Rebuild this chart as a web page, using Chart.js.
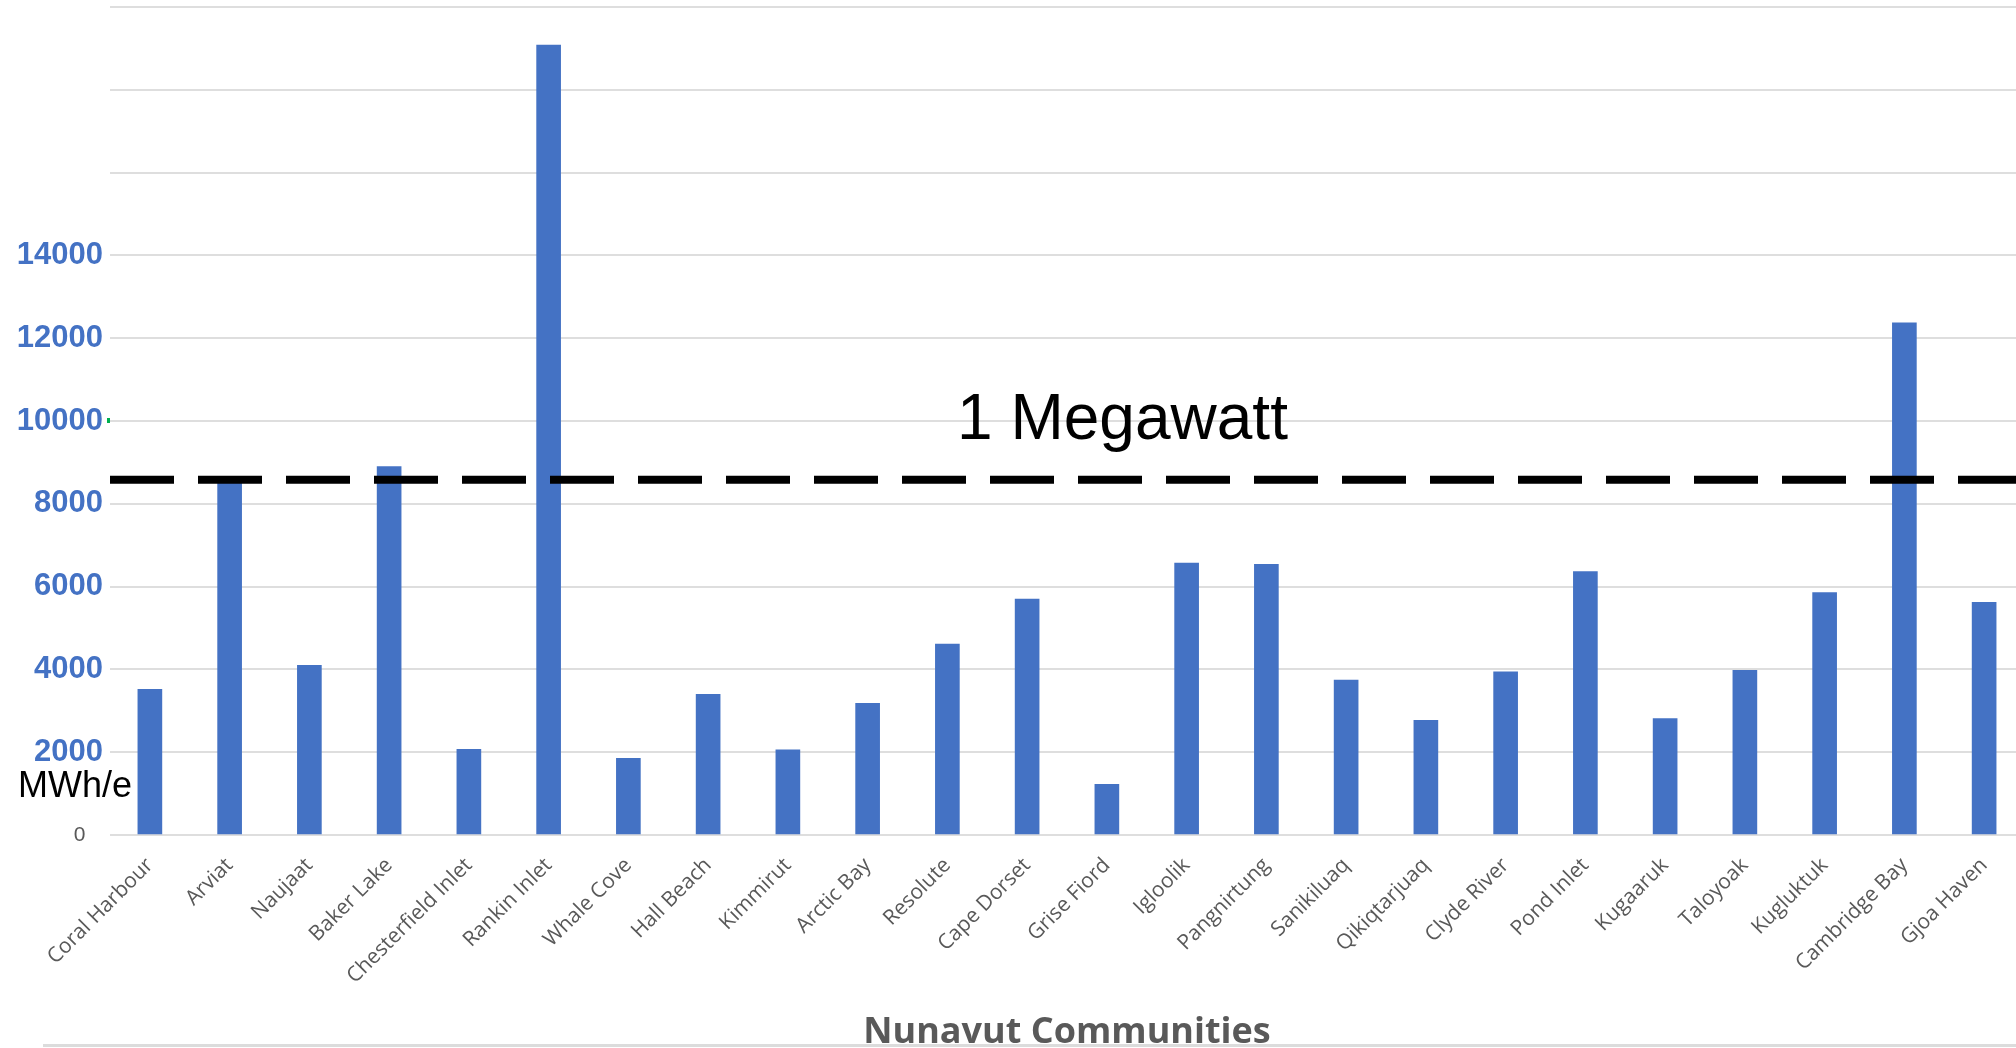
<!DOCTYPE html>
<html>
<head>
<meta charset="utf-8">
<script src="https://cdn.jsdelivr.net/npm/chart.js@4"></script>
<style>
  html, body { margin: 0; padding: 0; background: #fff; overflow: hidden; }
  #wrap { position: relative; width: 2026px; height: 1048px; }
</style>
</head>
<body>
<div id="wrap"><canvas id="energyChart" width="2026" height="1048"></canvas></div>
<script>
// Data
const communities = ['Coral Harbour', 'Arviat', 'Naujaat', 'Baker Lake', 'Chesterfield Inlet', 'Rankin Inlet',
    'Whale Cove', 'Hall Beach', 'Kimmirut', 'Arctic Bay', 'Resolute', 'Cape Dorset', 'Grise Fiord', 'Igloolik',
    'Pangnirtung', 'Sanikiluaq', 'Qikiqtarjuaq', 'Clyde River', 'Pond Inlet', 'Kugaaruk', 'Taloyoak', 'Kugluktuk',
    'Cambridge Bay', 'Gjoa Haven'];
const energyUse = [3520, 8550, 4100, 8900, 2070, 19080,
    1850, 3400, 2060, 3180, 4610, 5700, 1225, 6570,
    6540, 3740, 2770, 3940, 6360, 2810, 3975, 5855,
    12370, 5620];
const yTickLabels = [0, 2000, 4000, 6000, 8000, 10000, 12000, 14000];
const megawattLine = 8580;

const blue = '#4472C4';
const grey = '#595959';

// Dashed 1 MW line, its label and the loose bits of text
const overlay = {
    id: 'overlay',
    afterDatasetsDraw(chart) {
        const ctx = chart.ctx;
        const area = chart.chartArea;
        const y = chart.scales.y;
        const lineY = y.getPixelForValue(megawattLine);
        ctx.save();
        ctx.strokeStyle = '#000';
        ctx.lineWidth = 8;
        ctx.setLineDash([64, 24]);
        ctx.beginPath();
        ctx.moveTo(area.left, lineY);
        ctx.lineTo(chart.width, lineY);
        ctx.stroke();
        ctx.setLineDash([]);

        ctx.fillStyle = '#000';
        ctx.textBaseline = 'alphabetic';
        ctx.font = '64px Arial, "Liberation Sans"';
        ctx.textAlign = 'center';
        ctx.fillText('1 Megawatt', area.left + (area.right - area.left) * 0.529, lineY - 41);

        ctx.font = '36px Arial, "Liberation Sans"';
        ctx.textAlign = 'left';
        ctx.fillText('MWh/e', 18, y.getPixelForValue(0) - 38);

        // small green mark next to 10000
        ctx.fillStyle = '#00b050';
        ctx.fillRect(area.left - 3, y.getPixelForValue(10000) - 3, 3, 5);

        // frame line at the bottom
        ctx.fillStyle = '#dcdcdc';
        ctx.fillRect(43, chart.height - 4, chart.width - 43, 3);
        ctx.restore();
    }
};

const ctx = document.getElementById('energyChart').getContext('2d');
const energyChart = new Chart(ctx, {
    type: 'bar',
    data: {
        labels: communities,
        datasets: [{
            label: 'MWh/e',
            data: energyUse,
            backgroundColor: blue,
            barThickness: 24
        }]
    },
    options: {
        responsive: false,
        animation: false,
        layout: { padding: { top: 7, right: 2, left: 0, bottom: 0 } },
        plugins: {
            legend: { display: false },
            tooltip: { enabled: false }
        },
        scales: {
            x: {
                grid: { display: false, drawTicks: false },
                border: { display: false },
                ticks: {
                    minRotation: 45,
                    maxRotation: 45,
                    padding: 18,
                    color: grey,
                    font: { family: '"Open Sans"', size: 21 }
                },
                title: {
                    display: true,
                    text: 'Nunavut Communities',
                    color: grey,
                    font: { family: '"Open Sans"', size: 36, weight: 'bold' },
                    padding: { top: 0, bottom: -6 }
                },
                afterFit(scale) {
                    scale.height = 213;
                    scale.paddingLeft = 0;
                    scale.paddingRight = 0;
                }
            },
            y: {
                min: 0,
                max: 20000,
                grid: { color: '#dedede', lineWidth: 2, drawTicks: false },
                border: { display: false },
                ticks: {
                    stepSize: 2000,
                    padding: 7,
                    callback: function (value) {
                        if (value === 0) return '0   ';
                        return yTickLabels.includes(value) ? String(value) : '';
                    },
                    color: c => c.tick && c.tick.value === 0 ? grey : blue,
                    font: c => c.tick && c.tick.value === 0
                        ? { family: 'Arial, "Liberation Sans"', size: 21 }
                        : { family: 'Arial, "Liberation Sans"', size: 31, weight: 'bold' }
                },
                afterFit(scale) {
                    scale.width = 110;
                    scale.paddingTop = 0;
                    scale.paddingBottom = 0;
                }
            }
        }
    },
    plugins: [overlay]
});
</script>
</body>
</html>
